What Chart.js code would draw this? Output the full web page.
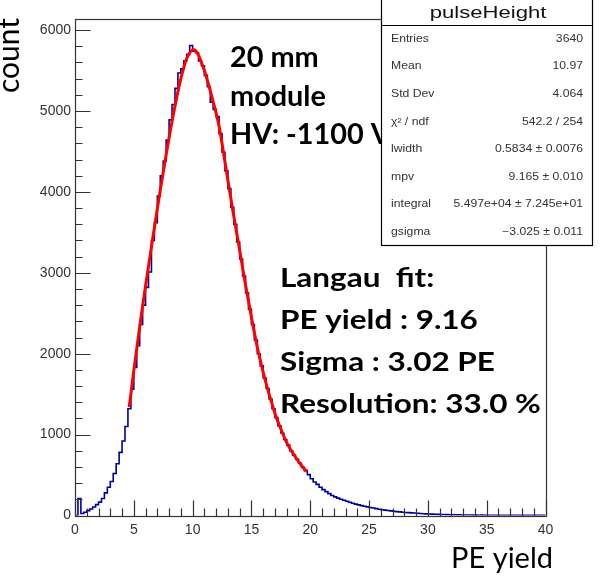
<!DOCTYPE html>
<html>
<head>
<meta charset="utf-8">
<script src="https://cdn.jsdelivr.net/npm/chart.js@4.4.1/dist/chart.umd.min.js"></script>
<style>
  html, body { margin: 0; padding: 0; background: #fff; }
  canvas { display: block; }
</style>
</head>
<body>
<canvas id="chart" width="602" height="577"></canvas>
<script>
// histogram: 160 bins of 0.25 PE from 0 to 40
const binWidth = 0.25;
const counts = [
  0, 210, 25, 40, 60, 80, 105, 135, 165, 210,
  280, 350, 420, 520, 640, 780, 920, 1100, 1320, 1560,
  1830, 2100, 2360, 2600, 2820, 3010, 3400, 3620, 3950, 4200,
  4380, 4640, 4890, 5080, 5280, 5470, 5520, 5620, 5700, 5810,
  5740, 5720, 5620, 5560, 5440, 5300, 5110, 5020, 4930, 4720,
  4490, 4260, 4040, 3810, 3600, 3380, 3170, 2960, 2750, 2550,
  2360, 2170, 2000, 1850, 1700, 1570, 1440, 1320, 1210, 1110,
  1020, 940, 870, 800, 745, 695, 645, 595, 555, 505,
  455, 415, 385, 350, 320, 295, 270, 248, 230, 215,
  200, 188, 176, 163, 152, 141, 131, 122, 114, 106,
  99, 92, 85, 78, 72, 67, 62, 57, 52, 48,
  45, 41, 38, 35, 32, 30, 27, 25, 22, 20,
  18, 17, 15, 14, 13, 12, 11, 10, 9, 9,
  8, 7, 7, 6, 6, 5, 5, 4, 5, 4,
  4, 3, 3, 4, 3, 2, 3, 2, 2, 3,
  2, 2, 1, 2, 2, 1, 1, 2, 3, 2
];

// Langau fit curve
const fitX = [4.6, 4.75, 5.0, 5.25, 5.5, 5.75, 6.0, 6.25, 6.5, 6.75,
  7.0, 7.25, 7.5, 7.75, 8.0, 8.25, 8.5, 8.75, 9.0, 9.25,
  9.5, 9.75, 10.0, 10.25, 10.5, 10.75, 11.0, 11.25, 11.5, 11.75,
  12.0, 12.25, 12.5, 12.75, 13.0, 13.25, 13.5, 13.75, 14.0, 14.25,
  14.5, 14.75, 15.0, 15.25, 15.5, 15.75, 16.0, 16.25, 16.5, 16.75,
  17.0, 17.25, 17.5, 17.75, 18.0, 18.25, 18.5, 18.75, 19.0, 19.25,
  19.5, 19.7];
const fitY = [1340, 1500, 1790, 2060, 2330, 2590, 2840, 3080, 3320, 3560,
  3790, 4020, 4240, 4460, 4670, 4870, 5060, 5240, 5400, 5540,
  5650, 5720, 5755, 5745, 5690, 5600, 5500, 5380, 5250, 5110,
  4970, 4810, 4600, 4370, 4140, 3920, 3700, 3490, 3280, 3060,
  2850, 2650, 2450, 2260, 2080, 1920, 1770, 1630, 1500, 1380,
  1260, 1160, 1070, 980, 900, 835, 775, 720, 670, 620,
  575, 545];

const xMajor = [0, 5, 10, 15, 20, 25, 30, 35, 40];
const yMajor = [0, 1000, 2000, 3000, 4000, 5000, 6000];

const statsTitle = "pulseHeight";
const statsLabels = ["Entries", "Mean", "Std Dev", "\u03c7\u00b2 / ndf", "lwidth", "mpv", "integral", "gsigma"];
const statsValues = ["3640", "10.97", "4.064", "542.2 / 254", "0.5834 \u00b1 0.0076",
  "9.165 \u00b1 0.010", "5.497e+04 \u00b1 7.245e+01", "\u22123.025 \u00b1 0.011"];

const noteTop = ["20 mm", "module", "HV: -1100 V"];
const noteFit = ["Langau  fit:", "PE yield : 9.16", "Sigma : 3.02 PE", "Resolution: 33.0 %"];

const histPoints = counts.map((c, i) => ({ x: i * binWidth, y: c }));
histPoints.push({ x: counts.length * binWidth, y: counts[counts.length - 1] });
const fitPoints = fitX.map((x, i) => ({ x: x, y: fitY[i] }));

// draw text squeezed/stretched horizontally
function wideText(ctx, text, x, y, sx, align) {
  ctx.save();
  ctx.translate(x, y);
  ctx.scale(sx, 1);
  ctx.textAlign = align;
  ctx.fillText(text, 0, 0);
  ctx.restore();
}

// frame, inward ticks, labels, notes and the stats box (ROOT style)
const rootStyle = {
  id: 'rootStyle',
  afterDatasetsDraw(chart) {
    const ctx = chart.ctx;
    const xs = chart.scales.x, ys = chart.scales.y;
    const a = chart.chartArea;
    const x0 = Math.round(a.left) + 0.5, x1 = Math.round(a.right) + 0.5;
    const y0 = Math.round(a.top) + 0.5, y1 = Math.round(a.bottom) + 0.5;
    ctx.save();
    ctx.strokeStyle = '#333';
    ctx.lineWidth = 1.2;
    ctx.strokeRect(x0, y0, x1 - x0, y1 - y0);

    // x ticks
    ctx.beginPath();
    for (let v = 0; v <= 40; v++) {
      const px = Math.round(xs.getPixelForValue(v)) + 0.5;
      const len = v % 5 === 0 ? 16 : 8;
      ctx.moveTo(px, y1);
      ctx.lineTo(px, y1 - len);
    }
    // y ticks
    for (let v = 0; v <= 6000; v += 200) {
      const py = Math.round(ys.getPixelForValue(v)) + 0.5;
      const len = v % 1000 === 0 ? 15 : 7;
      ctx.moveTo(x0, py);
      ctx.lineTo(x0 + len, py);
    }
    ctx.stroke();

    ctx.fillStyle = '#333';
    ctx.font = '14px "Liberation Sans", Arial, sans-serif';
    ctx.textAlign = 'center';
    ctx.textBaseline = 'middle';
    xMajor.forEach(v => {
      ctx.fillText(String(v), xs.getPixelForValue(v), 530);
    });
    ctx.textAlign = 'right';
    yMajor.forEach(v => {
      ctx.fillText(String(v), 71, ys.getPixelForValue(v));
    });

    // axis titles
    ctx.fillStyle = '#000';
    ctx.font = '29px Lato, "Open Sans", sans-serif';
    ctx.textAlign = 'right';
    ctx.textBaseline = 'alphabetic';
    ctx.fillText('PE yield', 553, 568);
    ctx.save();
    ctx.translate(19, 18);
    ctx.rotate(-Math.PI / 2);
    ctx.font = '30px Lato, "Open Sans", sans-serif';
    ctx.textAlign = 'right';
    ctx.fillText('count', 0, 0);
    ctx.restore();

    // notes
    ctx.font = 'bold 28px Lato, "Open Sans", sans-serif';
    ctx.textBaseline = 'middle';
    noteTop.forEach((t, i) => wideText(ctx, t, 230, 58 + i * 38.5, 1.03, 'left'));
    ctx.font = 'bold 26px Lato, "Open Sans", sans-serif';
    noteFit.forEach((t, i) => wideText(ctx, t, 280, 279 + i * 42, 1.21, 'left'));

    // stats box
    const bx = 381.5, by = -1, bw = 211, bh = 246.5;
    ctx.fillStyle = '#fff';
    ctx.fillRect(bx, by, bw, bh);
    ctx.strokeStyle = '#000';
    ctx.lineWidth = 1.2;
    ctx.strokeRect(bx, by, bw, bh);
    ctx.beginPath();
    ctx.moveTo(bx, 25.5);
    ctx.lineTo(bx + bw, 25.5);
    ctx.stroke();

    ctx.fillStyle = '#111';
    ctx.font = '17px "Liberation Sans", Arial, sans-serif';
    wideText(ctx, statsTitle, 488, 13, 1.3, 'center');

    ctx.fillStyle = '#333';
    ctx.font = '10px "Liberation Sans", Arial, sans-serif';
    statsLabels.forEach((t, i) => {
      const y = 39 + i * 27.6;
      wideText(ctx, t, 391, y, 1.22, 'left');
      wideText(ctx, statsValues[i], 583, y, 1.22, 'right');
    });
    ctx.restore();
  }
};

new Chart(document.getElementById('chart'), {
  type: 'line',
  data: {
    datasets: [
      {
        label: 'Langau fit',
        data: fitPoints,
        borderColor: '#ff0000',
        borderWidth: 3,
        pointRadius: 0,
        tension: 0.3,
        fill: false,
        order: 0
      },
      {
        label: 'pulseHeight',
        data: histPoints,
        borderColor: '#00009c',
        borderWidth: 1.6,
        pointRadius: 0,
        stepped: 'before',
        fill: false,
        order: 1
      }
    ]
  },
  options: {
    responsive: false,
    animation: false,
    devicePixelRatio: 1,
    layout: { padding: { left: 75, right: 56.5, top: 19, bottom: 61.5 } },
    plugins: { legend: { display: false }, tooltip: { enabled: false } },
    scales: {
      x: { type: 'linear', min: 0, max: 40, display: false },
      y: { type: 'linear', min: 0, max: 6137, display: false }
    }
  },
  plugins: [rootStyle]
});
</script>
</body>
</html>
